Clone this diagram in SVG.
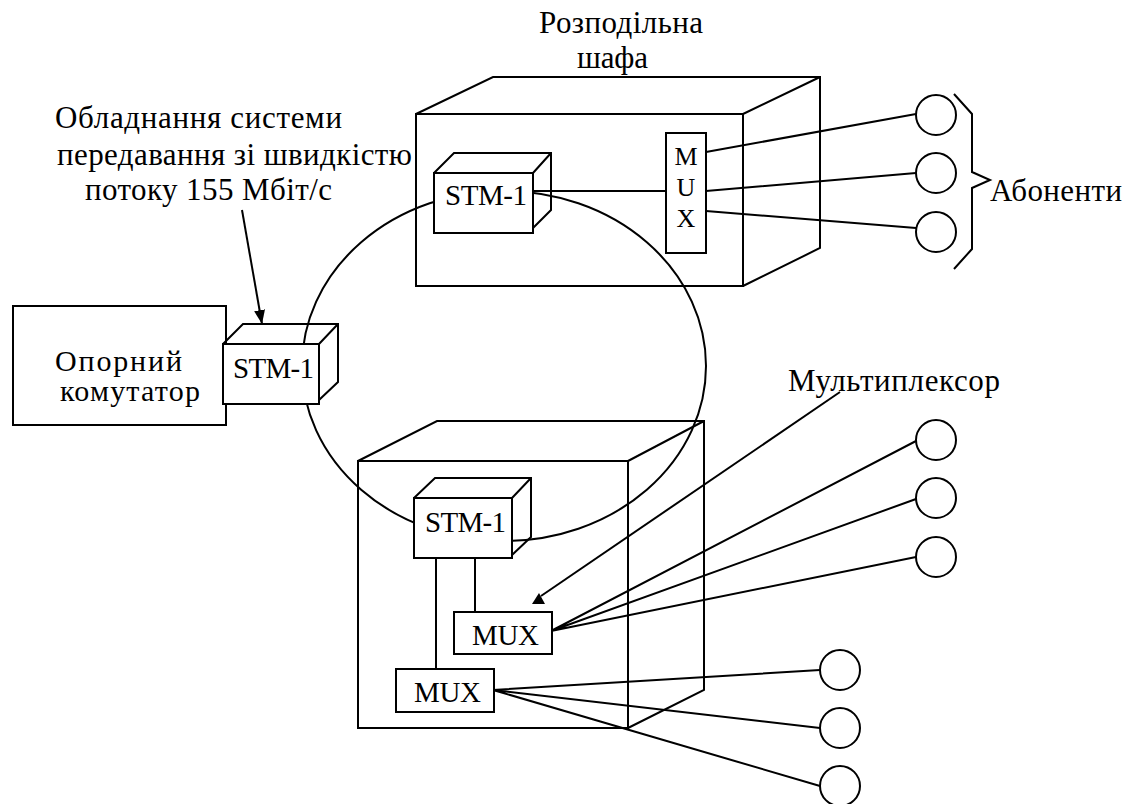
<svg xmlns="http://www.w3.org/2000/svg" width="1128" height="804" viewBox="0 0 1128 804">
  <defs>
    <style>
      .ln { fill: none; stroke: #000; stroke-width: 2; }
      .face { fill: #fff; stroke: #000; stroke-width: 2; }
      .t { font-size: 31px; fill: #000; }
      .tm { text-anchor: middle; }
      .stm { font-size: 29px; }
      .mux { font-size: 29px; }
      .muxv { font-size: 26px; }
    </style>
    <marker id="arrow" markerUnits="userSpaceOnUse" markerWidth="16" markerHeight="12" refX="14" refY="5.5" orient="auto">
      <path d="M0,0 L14,5.5 L0,11 z" fill="#000"/>
    </marker>
  </defs>

  <rect width="1128" height="804" fill="#fff"/>

  <!-- connectors: optical ring, feeder lines and pointers -->
  <g id="connectors" class="ln">
    <ellipse cx="504" cy="366" rx="202" ry="175"/>
    <path d="M533,191 H666"/>
    <path d="M706,152 L916,114 M706,191 L916,173 M706,211 L916,228"/>
    <path d="M436,558 V669 M475,558 V612"/>
    <path d="M551,631 L916,441 M551,631 L916,499 M551,631 L916,557"/>
    <path d="M493,690 L820,670 M493,690 L820,728 M493,690 L820,786"/>
    <path d="M242,210 L262,324" marker-end="url(#arrow)"/>
    <path d="M840,392 L541,596"/>
    <polygon points="532,604 545,604 539,593" fill="#000" stroke="none"/>
  </g>

  <!-- distribution cabinet -->
  <g id="cabinet-top">
    <rect class="ln" x="416" y="114" width="327" height="172"/>
    <path class="ln" d="M416,114 L493,77 L820,77 L820,248 L743,286 M743,114 L820,77"/>
    <text class="t" font-family="Liberation Serif, serif" x="539" y="33" textLength="164">Розподільна</text>
    <text class="t" font-family="Liberation Serif, serif" x="577" y="68" textLength="71">шафа</text>
  </g>

  <g id="stm-top">
    <path class="ln" d="M434,173 L454,153 L551,153 L551,210 L533,228 M533,173 L551,153"/>
    <rect class="face" x="434" y="173" width="99" height="60"/>
    <text class="t stm" font-family="Liberation Serif, serif" x="445" y="205" textLength="82">STM-1</text>
  </g>

  <g id="mux-top">
    <rect class="face" x="666" y="133" width="40" height="120"/>
    <text class="t tm muxv" font-family="Liberation Serif, serif" x="686" y="165">M</text>
    <text class="t tm muxv" font-family="Liberation Serif, serif" x="686" y="196">U</text>
    <text class="t tm muxv" font-family="Liberation Serif, serif" x="686" y="227">X</text>
  </g>

  <!-- subscribers of the cabinet -->
  <g id="sub-top-1"><circle class="ln" cx="936" cy="115" r="20"/></g>
  <g id="sub-top-2"><circle class="ln" cx="936" cy="173" r="20"/></g>
  <g id="sub-top-3"><circle class="ln" cx="936" cy="232" r="20"/></g>
  <g id="subscribers-label">
    <path class="ln" d="M954,94 L972,114 L972,172 L990,180 L972,188 L972,249 L954,269"/>
    <text class="t" font-family="Liberation Serif, serif" x="990" y="201" textLength="132">Абоненти</text>
  </g>

  <!-- equipment caption -->
  <g id="equipment-label">
    <text class="t" font-family="Liberation Serif, serif" x="55" y="128" textLength="287">Обладнання системи</text>
    <text class="t" font-family="Liberation Serif, serif" x="57" y="165" textLength="355">передавання зі швидкістю</text>
    <text class="t" font-family="Liberation Serif, serif" x="85" y="200" textLength="247">потоку 155 Мбіт/с</text>
  </g>

  <!-- core switch -->
  <g id="switch">
    <rect class="ln" x="13" y="306" width="213" height="119"/>
    <text class="t" font-family="Liberation Serif, serif" x="55" y="371" textLength="127" style="font-size:30px">Опорний</text>
    <text class="t" font-family="Liberation Serif, serif" x="60" y="401" textLength="140" style="font-size:30px">комутатор</text>
  </g>

  <g id="stm-left">
    <path class="ln" d="M223,344 L243,324 L338,324 L338,382 L319,400 M319,344 L338,324"/>
    <rect class="face" x="223" y="344" width="96" height="60"/>
    <text class="t stm" font-family="Liberation Serif, serif" x="233" y="378" textLength="81">STM-1</text>
  </g>

  <!-- second cabinet -->
  <g id="cabinet-bottom">
    <rect class="ln" x="358" y="461" width="270" height="267"/>
    <path class="ln" d="M358,461 L437,421 L704,421 L704,690 L628,728 M628,461 L704,421"/>
  </g>

  <g id="stm-bottom">
    <path class="ln" d="M414,498 L435,478 L531,478 L531,537 L512,555 M512,498 L531,478"/>
    <rect class="face" x="414" y="498" width="98" height="60"/>
    <text class="t stm" font-family="Liberation Serif, serif" x="425" y="532" textLength="81">STM-1</text>
  </g>

  <g id="mux-b1">
    <rect class="face" x="454" y="612" width="98" height="42"/>
    <text class="t mux" font-family="Liberation Serif, serif" x="472" y="645" textLength="67">MUX</text>
  </g>

  <g id="mux-b2">
    <rect class="face" x="396" y="669" width="98" height="43"/>
    <text class="t mux" font-family="Liberation Serif, serif" x="414" y="702" textLength="67">MUX</text>
  </g>

  <g id="mux-label">
    <text class="t" font-family="Liberation Serif, serif" x="788" y="391" textLength="212">Мультиплексор</text>
  </g>

  <g id="sub-b1-1"><circle class="ln" cx="936" cy="440" r="20"/></g>
  <g id="sub-b1-2"><circle class="ln" cx="936" cy="498" r="20"/></g>
  <g id="sub-b1-3"><circle class="ln" cx="936" cy="557" r="20"/></g>
  <g id="sub-b2-1"><circle class="ln" cx="840" cy="670" r="20"/></g>
  <g id="sub-b2-2"><circle class="ln" cx="840" cy="728" r="20"/></g>
  <g id="sub-b2-3"><circle class="ln" cx="840" cy="786" r="20"/></g>
</svg>
